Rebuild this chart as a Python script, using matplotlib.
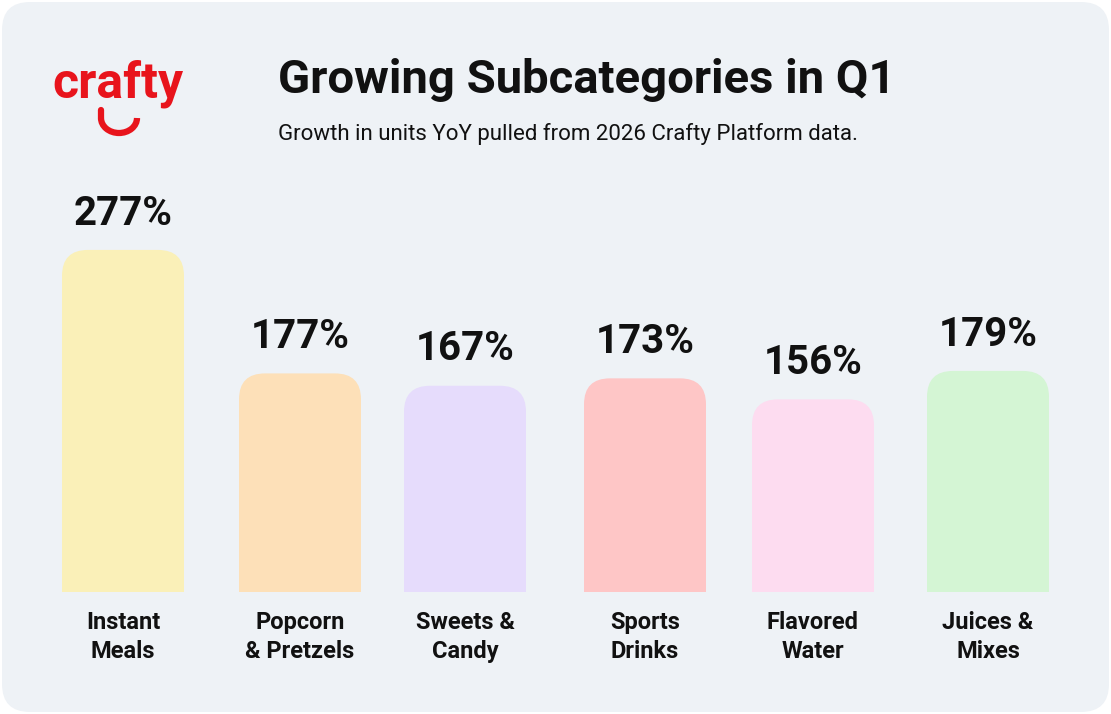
import matplotlib.pyplot as plt
from matplotlib.patches import FancyBboxPatch, Rectangle, Arc

plt.rcParams['font.family'] = ['Roboto', 'DejaVu Sans']

categories = ['Instant\nMeals', 'Popcorn\n& Pretzels', 'Sweets &\nCandy',
              'Sports\nDrinks', 'Flavored\nWater', 'Juices &\nMixes']
growth = [277, 177, 167, 173, 156, 179]
value_labels = ['277%', '177%', '167%', '173%', '156%', '179%']
colors = ['#faf0b8', '#fde0b8', '#e6dcfc', '#fec6c6', '#fddcf0', '#d4f5d4']
centers = [123, 300, 465, 645, 813, 988]  # bar centres in pixels

W, H = 1111, 714
fig = plt.figure(figsize=(W / 100, H / 100), dpi=100)

# background card
bg = fig.add_axes([0, 0, 1, 1])
bg.set_xlim(0, W)
bg.set_ylim(H, 0)
bg.axis('off')
bg.add_patch(FancyBboxPatch((2, 2), W - 4, H - 4, boxstyle='round,pad=0,rounding_size=28',
                            facecolor='#eef2f6', edgecolor='none'))

# logo
bg.text(118, 84, 'crafty', color='#e8141c', fontsize=36, fontweight='bold',
        ha='center', va='center')
bg.add_patch(Arc((119, 118), 36, 30, theta1=0, theta2=180, color='#e8141c', lw=4.5))
bg.plot([101, 101], [118, 110], color='#e8141c', lw=4.5, solid_capstyle='round')

# titles
bg.text(278, 80, 'Growing Subcategories in Q1', fontsize=34, fontweight='bold',
        ha='left', va='center', color='#111111')
bg.text(278, 134, 'Growth in units YoY pulled from 2026 Crafty Platform data.',
        fontsize=16, ha='left', va='center', color='#111111')

# bars
px_per_unit = 1.235
ymax = 300
bottom_px = 592
ax = fig.add_axes([0, (H - bottom_px) / H, 1, ymax * px_per_unit / H])
ax.set_xlim(0, W)
ax.set_ylim(0, ymax)
ax.axis('off')
bar_w = 122
r = 26  # corner radius in pixels
aspect = 1 / px_per_unit
for x, v, c, lab, cat in zip(centers, growth, colors, value_labels, categories):
    ax.add_patch(FancyBboxPatch((x - bar_w / 2, 0), bar_w, v,
                                boxstyle=f'round,pad=0,rounding_size={r}',
                                mutation_aspect=aspect, facecolor=c, edgecolor='none'))
    ax.add_patch(Rectangle((x - bar_w / 2, 0), bar_w, v / 2, facecolor=c, edgecolor='none'))
    ax.text(x, v + 14, lab, fontsize=29, fontweight='bold', ha='center', va='bottom',
            color='#111111')
    bg.text(x, 637, cat, fontsize=17, fontweight='bold', ha='center', va='center',
            color='#111111', linespacing=1.3)

fig.savefig('out.png', dpi=100)
